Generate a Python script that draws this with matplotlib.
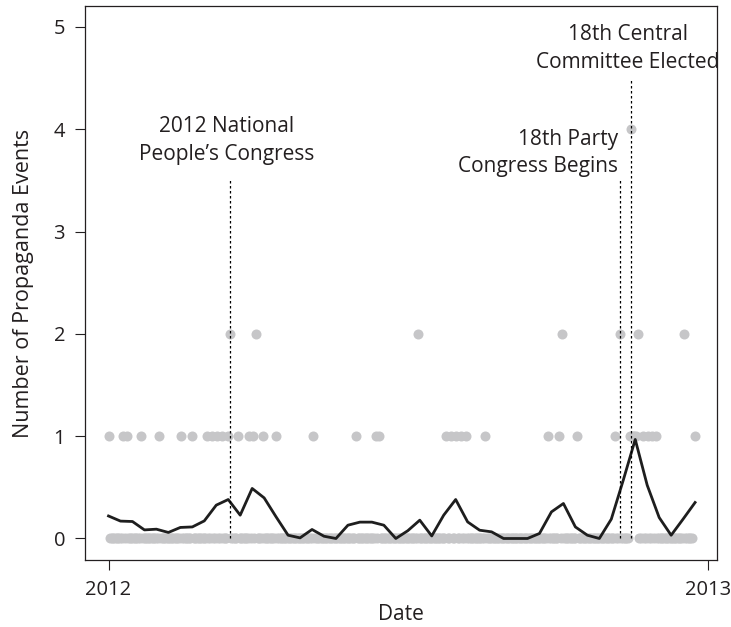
import matplotlib.pyplot as plt
import pandas as pd

# dias con eventos (fecha, numero de eventos)
fechasEventos = ['2012-01-01', '2012-01-10', '2012-01-12', '2012-01-21', '2012-02-01',
                 '2012-02-14', '2012-02-21', '2012-03-01', '2012-03-04', '2012-03-07',
                 '2012-03-10', '2012-03-14', '2012-03-15', '2012-03-20', '2012-03-27',
                 '2012-03-29', '2012-03-31', '2012-04-04', '2012-04-12', '2012-05-05',
                 '2012-05-31', '2012-06-12', '2012-06-14', '2012-07-08', '2012-07-25',
                 '2012-07-28', '2012-07-31', '2012-08-03', '2012-08-06', '2012-08-18',
                 '2012-09-25', '2012-10-02', '2012-10-04', '2012-10-13', '2012-11-05',
                 '2012-11-08', '2012-11-14', '2012-11-15', '2012-11-16', '2012-11-17',
                 '2012-11-18', '2012-11-19', '2012-11-22', '2012-11-25', '2012-11-28',
                 '2012-11-30', '2012-12-17', '2012-12-24']
cantidadEventos = [1, 1, 1, 1, 1,
                   1, 1, 1, 1, 1,
                   1, 1, 2, 1, 1,
                   1, 2, 1, 1, 1,
                   1, 1, 1, 2, 1,
                   1, 1, 1, 1, 1,
                   1, 1, 2, 1, 1,
                   2, 1, 4, 1, 1,
                   1, 2, 1, 1, 1,
                   1, 2, 1]

# dias sin eventos: todo el periodo menos los dias de arriba
inicioDatos = '2012-01-01'
finDatos = '2012-12-22'

# promedio semanal (linea negra)
promedioSemanal = [0.22, 0.17, 0.166, 0.084, 0.091, 0.059, 0.108, 0.113, 0.172, 0.326,
                   0.381, 0.228, 0.489, 0.397, 0.211, 0.032, 0.006, 0.088, 0.022, 0.0,
                   0.13, 0.16, 0.16, 0.13, 0.0, 0.076, 0.179, 0.025, 0.228, 0.381,
                   0.162, 0.081, 0.065, 0.0, 0.0, 0.0, 0.049, 0.26, 0.342, 0.113,
                   0.032, 0.0, 0.189, 0.57, 0.968, 0.521, 0.205, 0.032, 0.19, 0.352]
semanas = pd.date_range('2012-01-01', '2012-12-24', periods=len(promedioSemanal))

# eventos politicos
fechasPoliticas = ['2012-03-15', '2012-11-08', '2012-11-15']
alturaLineas = [3.5, 3.5, 4.5]
textosPoliticos = ['2012 National\nPeople\u2019s Congress', '18th Party\nCongress Begins',
                   '18th Central\nCommittee Elected']
alturaTextos = [3.89, 3.77, 4.79]

plt.rcParams['font.family'] = ['Open Sans', 'DejaVu Sans']
colorTexto = '#231f20'
gris = '#c6c6c8'

fechasEventos = pd.to_datetime(fechasEventos)
todosLosDias = pd.date_range(inicioDatos, finDatos, freq='D')
diasCero = todosLosDias[~todosLosDias.isin(fechasEventos)]

fig = plt.figure(figsize=(7.31, 6.27), dpi=100)
ax = fig.add_axes([0.1167, 0.1069, 0.9802 - 0.1167, 0.9904 - 0.1069])

ax.scatter(diasCero, [0] * len(diasCero), s=52, color=gris, linewidths=0, zorder=2)
ax.scatter(fechasEventos, cantidadEventos, s=52, color=gris, linewidths=0, zorder=2)
ax.plot(semanas, promedioSemanal, color='#1e1e1e', lw=2.0, zorder=3)

for f, h in zip(pd.to_datetime(fechasPoliticas), alturaLineas):
    ax.vlines(f, 0, h, color='black', lw=0.9, linestyles=(0, (2, 2)), zorder=4)

f = pd.to_datetime(fechasPoliticas)
ax.text(f[0] - pd.Timedelta(days=2), alturaTextos[0], textosPoliticos[0], ha='center',
        va='center', fontsize=15, color=colorTexto, linespacing=1.4)
ax.text(f[1] - pd.Timedelta(days=1), alturaTextos[1], textosPoliticos[1], ha='right',
        va='center', fontsize=15, color=colorTexto, linespacing=1.4)
ax.text(f[2] - pd.Timedelta(days=2), alturaTextos[2], textosPoliticos[2], ha='center',
        va='center', fontsize=15, color=colorTexto, linespacing=1.4)

ax.set_xlim(pd.Timestamp('2011-12-17 20:00'), pd.Timestamp('2013-01-06 02:00'))
ax.set_ylim(-0.21, 5.205)
ax.set_xticks(pd.to_datetime(['2012-01-01', '2013-01-01']))
ax.set_xticklabels(['2012', '2013'])
ax.set_yticks([0, 1, 2, 3, 4, 5])
ax.tick_params(direction='out', length=7.5, width=0.8, pad=7, labelsize=14.5,
               colors=colorTexto)
for s in ax.spines.values():
    s.set_linewidth(0.9)
    s.set_color('#231f20')

ax.set_xlabel('Date', fontsize=15, color=colorTexto, labelpad=3)
ax.set_ylabel('Number of Propaganda Events', fontsize=15.5, color=colorTexto, labelpad=14)

plt.savefig('out.png', dpi=100)
